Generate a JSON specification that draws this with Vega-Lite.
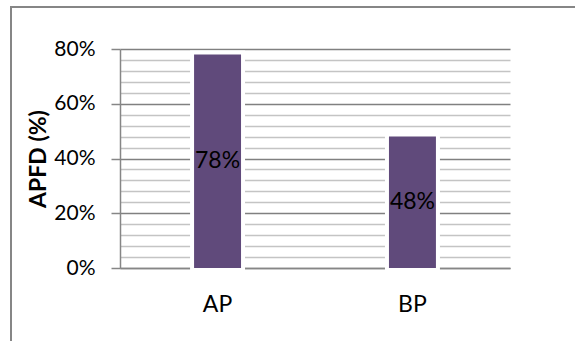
{
  "$schema": "https://vega.github.io/schema/vega-lite/v6.json",
  "autosize": {"type": "none"},
  "padding": {"left": 11, "top": 7, "right": 0, "bottom": 0},
  "width": 580,
  "height": 350,
  "background": "white",
  "config": {
    "view": {"stroke": "#868686", "strokeWidth": 2},
    "font": "Lato"
  },
  "data": {
    "values": [
      {"category": "AP", "value": 0.78},
      {"category": "BP", "value": 0.48}
    ]
  },
  "transform": [{"calculate": "datum.value / 2", "as": "mid"}],
  "resolve": {"axis": {"y": "independent"}},
  "layer": [
    {
      "mark": {"type": "bar", "color": "white", "stroke": "white", "strokeWidth": 8},
      "encoding": {
        "x": {
          "field": "category", "type": "nominal",
          "scale": {"range": [109, 499], "paddingInner": 0.759, "paddingOuter": 0.38},
          "axis": {
            "title": null, "offset": -89, "labelAngle": 0,
            "labelFont": "Lato", "labelFontSize": 23, "labelColor": "black",
            "labelPadding": 25, "ticks": false,
            "domainColor": "#868686", "domainWidth": 1.5, "grid": false
          }
        },
        "y": {
          "field": "value", "type": "quantitative",
          "scale": {"domain": [0, 0.8], "range": [261, 42], "nice": false},
          "axis": {
            "orient": "left", "offset": -109, "values": [0.04, 0.08, 0.12, 0.16, 0.24, 0.28, 0.32, 0.36, 0.44, 0.48, 0.52, 0.56, 0.64, 0.68, 0.72, 0.76],
            "grid": true, "gridColor": "#c4c4c4", "gridWidth": 1.5,
            "labels": false, "ticks": false, "domain": false, "title": null, "zindex": 0
          }
        }
      }
    },
    {
      "mark": {"type": "bar", "color": "#604A7B"},
      "encoding": {
        "x": {"field": "category", "type": "nominal"},
        "y": {
          "field": "value", "type": "quantitative",
          "axis": {
            "orient": "left", "offset": -109, "values": [0, 0.2, 0.4, 0.6, 0.8],
            "format": ".0%", "grid": true, "gridColor": "#808080", "gridWidth": 1.5,
            "domainColor": "#868686", "domainWidth": 1.5,
            "tickColor": "#868686", "tickWidth": 1.5, "tickSize": 9,
            "labelFont": "Lato", "labelFontSize": 21, "labelColor": "black", "labelPadding": 16,
            "title": "APFD (%)", "titleFont": "Lato", "titleFontSize": 23, "titleFontWeight": "bold",
            "titleColor": "black", "titlePadding": 3, "zindex": 0
          }
        }
      }
    },
    {
      "mark": {"type": "text", "font": "Lato", "fontSize": 23, "color": "black", "baseline": "middle", "align": "center"},
      "encoding": {
        "x": {"field": "category", "type": "nominal"},
        "y": {"field": "mid", "type": "quantitative", "axis": null},
        "text": {"field": "value", "type": "quantitative", "format": ".0%"}
      }
    }
  ]
}
